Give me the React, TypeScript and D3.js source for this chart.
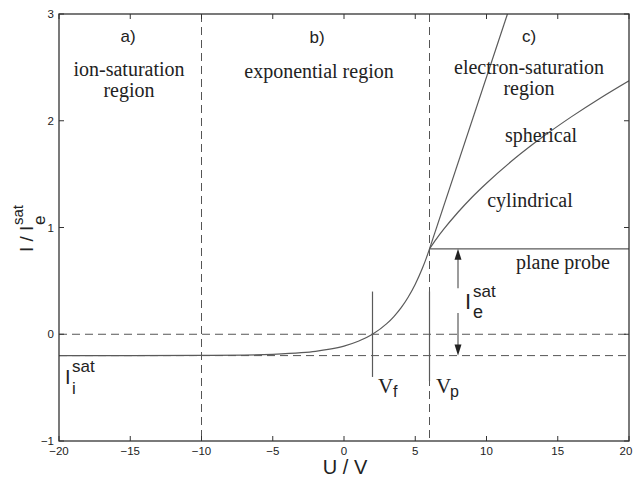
import React from "react";
import * as d3 from "d3";

// Tick values
const xTicks = [-20, -15, -10, -5, 0, 5, 10, 15, 20];
const yTicks = [-1, 0, 1, 2, 3];

// Exponential (retarding) region of the probe characteristic
const expU = [-20, -15, -10, -7, -5, -3, -2, -1, 0, 1, 2, 3, 3.5, 4, 4.5, 5, 5.5, 5.75, 6];
const expI = [-0.2, -0.2, -0.198, -0.195, -0.188, -0.173, -0.16, -0.14, -0.111, -0.066, 0, 0.099, 0.166, 0.247, 0.347, 0.469, 0.618, 0.704, 0.8];

// Cylindrical probe saturation branch
const cylU = [6, 6.5, 7, 8, 9, 10, 12, 14, 16, 18, 20];
const cylI = [0.8, 0.896, 0.984, 1.143, 1.286, 1.415, 1.648, 1.854, 2.041, 2.214, 2.375];

// Spherical probe branch
const sphU = [6, 11.47];
const sphI = [0.8, 3.0];

// Plane probe branch
const planeU = [6, 20];
const planeI = [0.8, 0.8];

// Reference lines
const dashedU = [-10, 6];
const dashedI = [0, -0.2];
const Vf = 2;
const Vp = 6;

const SANS = "'Liberation Sans', Arial, sans-serif";
const SERIF = "'Liberation Serif', 'Times New Roman', serif";

export default function App() {
  const W = 634, H = 480;
  const x = d3.scaleLinear().domain([-20, 20]).range([59, 629]);
  const y = d3.scaleLinear().domain([-1, 3]).range([441, 14]);
  const line = d3
    .line<[number, number]>()
    .x((d) => x(d[0]))
    .y((d) => y(d[1]))
    .curve(d3.curveMonotoneX);
  const zip = (a: number[], b: number[]) => a.map((v, i) => [v, b[i]] as [number, number]);

  const curveColor = "#5a5a5a";
  const dashColor = "#555";
  const axisColor = "#333";
  const textColor = "#222";

  const ax = x(8);
  const arrowTop = y(0.8);
  const arrowBot = y(-0.2);

  return (
    <svg width={W} height={H} style={{ position: "absolute", left: 0, top: 0, background: "#fff" }}>
      <defs>
        <clipPath id="plot">
          <rect x={x(-20)} y={y(3)} width={x(20) - x(-20)} height={y(-1) - y(3)} />
        </clipPath>
      </defs>

      {/* dashed reference lines */}
      {dashedU.map((u) => (
        <line key={"du" + u} x1={x(u)} x2={x(u)} y1={y(3)} y2={y(-1)} stroke={dashColor} strokeWidth={1} strokeDasharray="8,5" />
      ))}
      {dashedI.map((v) => (
        <line key={"di" + v} x1={x(-20)} x2={x(20)} y1={y(v)} y2={y(v)} stroke={dashColor} strokeWidth={1} strokeDasharray="8,5" />
      ))}

      {/* curves */}
      <g clipPath="url(#plot)" fill="none" stroke={curveColor} strokeWidth={1.2}>
        <path d={line(zip(expU, expI)) || ""} />
        <path d={line(zip(cylU, cylI)) || ""} />
        <path d={line(zip(sphU, sphI)) || ""} />
        <path d={line(zip(planeU, planeI)) || ""} />
      </g>

      {/* Vf and Vp markers */}
      <line x1={x(Vf)} x2={x(Vf)} y1={y(0.4)} y2={y(-0.4)} stroke={curveColor} strokeWidth={1.2} />
      <line x1={x(Vp)} x2={x(Vp)} y1={y(0.4)} y2={y(-0.44)} stroke={curveColor} strokeWidth={1.2} />

      {/* double arrow I_e^sat */}
      <line x1={ax} x2={ax} y1={arrowTop + 8} y2={y(0.43)} stroke={curveColor} strokeWidth={1.2} />
      <line x1={ax} x2={ax} y1={y(0.2)} y2={arrowBot - 8} stroke={curveColor} strokeWidth={1.2} />
      <path d={`M${ax},${arrowTop} L${ax - 3.5},${arrowTop + 11} L${ax + 3.5},${arrowTop + 11} Z`} fill="#222" />
      <path d={`M${ax},${arrowBot} L${ax - 3.5},${arrowBot - 11} L${ax + 3.5},${arrowBot - 11} Z`} fill="#222" />

      {/* frame */}
      <rect x={x(-20)} y={y(3)} width={x(20) - x(-20)} height={y(-1) - y(3)} fill="none" stroke={axisColor} strokeWidth={1.3} />

      {/* ticks */}
      {xTicks.map((t) => (
        <g key={"xt" + t}>
          <line x1={x(t)} x2={x(t)} y1={y(-1)} y2={y(-1) - 5} stroke={axisColor} strokeWidth={1} />
          <line x1={x(t)} x2={x(t)} y1={y(3)} y2={y(3) + 5} stroke={axisColor} strokeWidth={1} />
          <text x={t === 20 ? x(t) - 3 : x(t)} y={455} textAnchor="middle" fontFamily={SANS} fontSize={11.5} fill={textColor}>
            {t < 0 ? "\u2212" + Math.abs(t) : String(t)}
          </text>
        </g>
      ))}
      {yTicks.map((t) => (
        <g key={"yt" + t}>
          <line x1={x(-20)} x2={x(-20) + 5} y1={y(t)} y2={y(t)} stroke={axisColor} strokeWidth={1} />
          <line x1={x(20)} x2={x(20) - 5} y1={y(t)} y2={y(t)} stroke={axisColor} strokeWidth={1} />
          <text x={54} y={y(t) + 4} textAnchor="end" fontFamily={SANS} fontSize={11.5} fill={textColor}>
            {t < 0 ? "\u2212" + Math.abs(t) : String(t)}
          </text>
        </g>
      ))}

      {/* axis labels */}
      <text x={345} y={474} textAnchor="middle" fontFamily={SANS} fontSize={20} fill={textColor}>
        U / V
      </text>
      <g transform="translate(33,252) rotate(-90)" fontFamily={SANS} fill={textColor}>
        <text x={0} y={0} fontSize={19}>I / I</text>
        <text x={27} y={-10} fontSize={15}>sat</text>
        <text x={27} y={12} fontSize={17}>e</text>
      </g>

      {/* region labels */}
      <g fontFamily={SANS} fontSize={17} fill={textColor} textAnchor="middle">
        <text x={128} y={42}>a)</text>
        <text x={317} y={43}>b)</text>
        <text x={529} y={42}>c)</text>
      </g>
      <g fontFamily={SERIF} fontSize={20} fill={textColor} textAnchor="middle">
        <text x={129} y={76}>ion-saturation</text>
        <text x={129} y={97}>region</text>
        <text x={319} y={78}>exponential region</text>
        <text x={529} y={74}>electron-saturation</text>
        <text x={529} y={95}>region</text>
        <text x={541} y={142}>spherical</text>
        <text x={530} y={207}>cylindrical</text>
        <text x={563} y={269}>plane probe</text>
      </g>

      {/* I_i^sat */}
      <g fontFamily={SANS} fill={textColor}>
        <text x={65} y={384} fontSize={20}>I</text>
        <text x={72} y={372} fontSize={17}>sat</text>
        <text x={72} y={394} fontSize={17}>i</text>
      </g>
      {/* I_e^sat */}
      <g fontFamily={SANS} fill={textColor}>
        <text x={465} y={309} fontSize={22}>I</text>
        <text x={473} y={297} fontSize={17}>sat</text>
        <text x={473} y={318} fontSize={18}>e</text>
      </g>
      {/* V_f, V_p */}
      <g fill={textColor}>
        <text x={378} y={393} fontFamily={SERIF} fontSize={21}>V</text>
        <text x={393} y={397} fontFamily={SANS} fontSize={16}>f</text>
        <text x={436} y={393} fontFamily={SERIF} fontSize={21}>V</text>
        <text x={450} y={397} fontFamily={SANS} fontSize={16}>p</text>
      </g>
    </svg>
  );
}
